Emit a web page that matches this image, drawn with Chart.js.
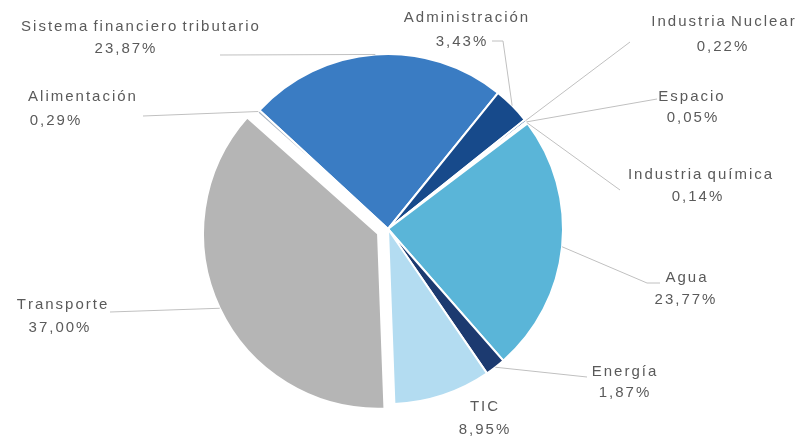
<!DOCTYPE html>
<html>
<head>
<meta charset="utf-8">
<script src="https://cdn.jsdelivr.net/npm/chart.js@4.4.1/dist/chart.umd.min.js"></script>
<style>
html,body{margin:0;padding:0;background:#ffffff;}
#wrap{width:800px;height:441px;}
</style>
</head>
<body>
<div id="wrap"><canvas id="c" width="800" height="441"></canvas></div>
<script>
// ---- data ----
const categories = ['Sistema financiero tributario','Administración','Industria Nuclear','Espacio','Industria química','Agua','Energía','TIC','Transporte','Alimentación'];
const shares = [23.87, 3.43, 0.22, 0.05, 0.14, 23.77, 1.87, 8.95, 37.00, 0.29];
const shareLabels = ['23,87%','3,43%','0,22%','0,05%','0,14%','23,77%','1,87%','8,95%','37,00%','0,29%'];

// ---- styles / layout ----
const sliceColors = ['#3a7cc3','#174a8b','#2b5d9c','#4a8fd0','#7fc3e3','#5ab5d8','#1c3a70','#b3dcf1','#b5b5b5','#a9b3bf'];
const explodeOffsets = [0,0,0,0,0,0,0,0,11,0];
const labelLayout = [
  {lines:[[140,27],[125,49]], path:[[220,55]]},
  {lines:[[466,18],[461,42]], path:[[503,41],[492,41]]},
  {lines:[[723,22],[722,47]], path:[[630,42]]},
  {lines:[[691,97],[692,118]], path:[[657,99]]},
  {lines:[[700,175],[697,197]], path:[[620,190]]},
  {lines:[[686,278],[685,300]], path:[[647,283],[660,283]]},
  {lines:[[624,372],[624,393]], path:[[587,377]]},
  {lines:[[484,407],[484,430]], path:[]},
  {lines:[[62,305],[59,328]], path:[[110,312]]},
  {lines:[[82,97],[55,121]], path:[[143,116]]}
];
const textColor = '#5a5a5a';
const leaderColor = '#c0c0c0';
const fontSpec = '15px "Liberation Sans", Arial, sans-serif';
const letterSp = 2;

function drawSpaced(ctx, text, cx, cy, sp) {
  const chars = Array.from(text);
  const widths = chars.map(c => ctx.measureText(c).width);
  let total = 0;
  chars.forEach((c, i) => { total += widths[i]; if (i < chars.length - 1 && c !== ' ') total += sp; });
  let x = cx - total / 2;
  ctx.textAlign = 'left';
  ctx.textBaseline = 'middle';
  chars.forEach((c, i) => {
    ctx.fillText(c, x, cy);
    x += widths[i] + (c !== ' ' ? sp : 0);
  });
}

const explodePlugin = {
  id: 'explodeSlices',
  afterDatasetsUpdate(chart) {
    const meta = chart.getDatasetMeta(0);
    meta.data.forEach((arc, i) => {
      const d = explodeOffsets[i];
      if (!d) return;
      const mid = (arc.startAngle + arc.endAngle) / 2;
      arc.x += Math.cos(mid) * d;
      arc.y += Math.sin(mid) * d;
    });
  }
};

const labelPlugin = {
  id: 'sliceLabels',
  afterDraw(chart) {
    const ctx = chart.ctx;
    const meta = chart.getDatasetMeta(0);
    ctx.save();
    meta.data.forEach((arc, i) => {
      const p = arc.getProps(['x','y','startAngle','endAngle','outerRadius'], true);
      const mid = (p.startAngle + p.endAngle) / 2;
      const ax = p.x + Math.cos(mid) * p.outerRadius;
      const ay = p.y + Math.sin(mid) * p.outerRadius;
      const lay = labelLayout[i];
      if (lay.path.length) {
        ctx.beginPath();
        ctx.moveTo(ax, ay);
        lay.path.forEach(pt => ctx.lineTo(pt[0], pt[1]));
        ctx.strokeStyle = leaderColor;
        ctx.lineWidth = 1;
        ctx.stroke();
      }
      ctx.fillStyle = textColor;
      ctx.font = fontSpec;
      drawSpaced(ctx, categories[i], lay.lines[0][0], lay.lines[0][1], letterSp);
      drawSpaced(ctx, shareLabels[i], lay.lines[1][0], lay.lines[1][1], letterSp);
    });
    ctx.restore();
  }
};

new Chart(document.getElementById('c').getContext('2d'), {
  type: 'pie',
  data: {
    labels: categories,
    datasets: [{
      data: shares,
      backgroundColor: sliceColors,
      borderColor: '#ffffff',
      borderWidth: 2,
      hoverOffset: 0
    }]
  },
  options: {
    responsive: false,
    animation: false,
    devicePixelRatio: 1,
    rotation: -47.3,
    radius: 175,
    layout: {padding: {left: 0, right: 24, top: 17, bottom: 0}},
    plugins: {legend: {display: false}, tooltip: {enabled: false}}
  },
  plugins: [explodePlugin, labelPlugin]
});
</script>
</body>
</html>
